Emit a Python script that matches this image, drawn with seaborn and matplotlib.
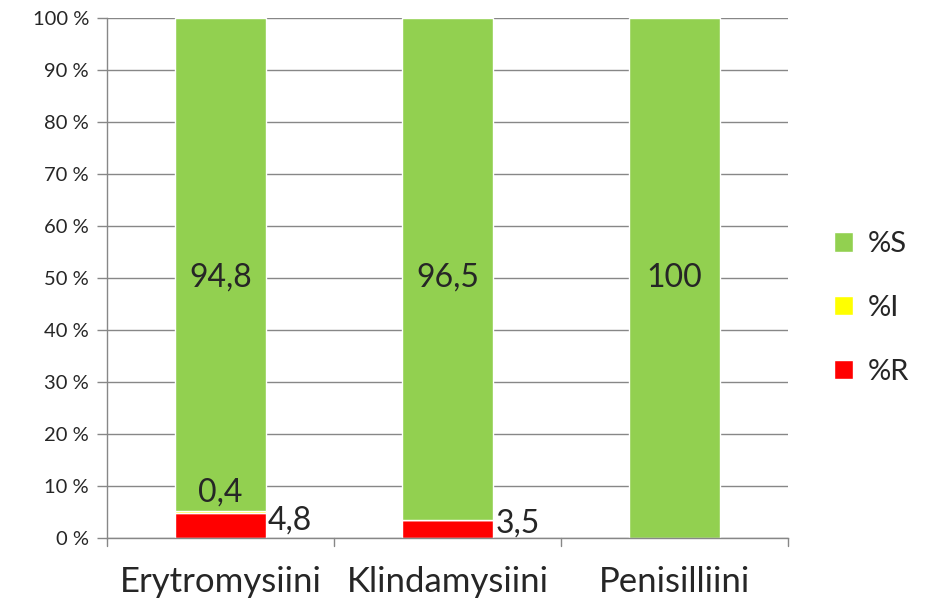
import pandas as pd
import numpy as np
import matplotlib.pyplot as plt
import seaborn as sns

antibiotics = ['Erytromysiini', 'Klindamysiini', 'Penisilliini']
pct_r = [4.8, 3.5, 0.0]
pct_i = [0.4, 0.0, 0.0]
pct_s = [94.8, 96.5, 100.0]

df = pd.DataFrame({'ab': antibiotics, 'R': pct_r, 'I': pct_i, 'S': pct_s})

sns.set_style('white')
plt.rcParams['font.family'] = ['Lato', 'DejaVu Sans']

fig = plt.figure(figsize=(9.28, 6.06), dpi=100)
ax = fig.add_axes([107 / 928, 1 - 538 / 606, 681 / 928, 520 / 606])

bw = 0.4
sns.barplot(data=df, x='ab', y='R', color='#ff0000', width=bw, saturation=1, ax=ax)
sns.barplot(data=df, x='ab', y='I', color='#ffff00', width=bw, saturation=1, ax=ax,
            bottom=df['R'])
sns.barplot(data=df, x='ab', y='S', color='#92d050', width=bw, saturation=1, ax=ax,
            bottom=df['R'] + df['I'])

ax.set_xlim(-0.5, 2.5)
ax.set_ylim(0, 100)
ax.set_yticks(np.arange(0, 101, 10))
ax.set_yticklabels([f'{v} %' for v in range(0, 101, 10)], fontsize=14.5)
ax.tick_params(axis='x', labelsize=25, length=0, pad=20)
ax.tick_params(axis='y', length=7, width=1, color='#878787', direction='out', left=True, pad=6)
ax.set_xlabel('')
ax.set_ylabel('')
ax.grid(axis='y', color='#878787', linewidth=1)
ax.set_axisbelow(True)
for side in ['top', 'right']:
    ax.spines[side].set_visible(False)
for side in ['left', 'bottom']:
    ax.spines[side].set_color('#878787')
    ax.spines[side].set_linewidth(1)

# category boundary ticks on the x axis
for xb in [-0.5, 0.5, 1.5, 2.5]:
    ax.plot([xb, xb], [0, -1.6], color='#878787', lw=1, clip_on=False)

# data labels
for i in range(3):
    if pct_s[i] > 0:
        ax.text(i, 50, f'{pct_s[i]:g}'.replace('.', ','), ha='center', va='center', fontsize=23)
    if pct_r[i] > 0:
        ax.text(i + bw / 2 + 0.01, pct_r[i] / 2 + 1, f'{pct_r[i]:g}'.replace('.', ','),
                ha='left', va='center', fontsize=23)
    if pct_i[i] > 0:
        ax.text(i, pct_r[i] + pct_i[i] + 3.5, f'{pct_i[i]:g}'.replace('.', ','),
                ha='center', va='center', fontsize=23)

handles = [ax.containers[2][0], ax.containers[1][0], ax.containers[0][0]]
fig.legend(handles, ['%S', '%I', '%R'],
           loc='center left', bbox_to_anchor=(808 / 928, 1 - 308 / 606), frameon=False,
           fontsize=21, handlelength=0.65, handleheight=0.65, handletextpad=0.5, labelspacing=1.3)

fig.savefig('out.png', dpi=100)
